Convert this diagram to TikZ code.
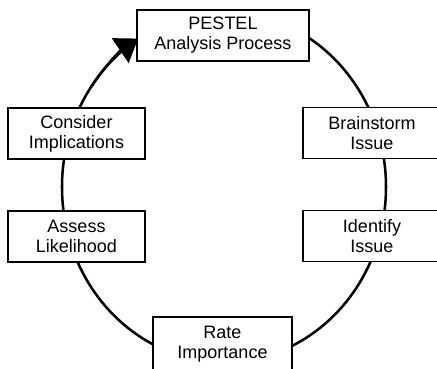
\documentclass[tikz,border=0pt]{standalone}
\usepackage{fontspec}
\setmainfont{Liberation Sans}
\usetikzlibrary{arrows.meta, calc}

\begin{document}
\begin{tikzpicture}[x=0.025cm, y=0.025cm, main/.style = {draw, fill=white, line width=1.1pt, align=center, inner sep=0pt, minimum height=1.28cm, font=\fontsize{12.8}{14.2}\selectfont}]
			\useasboundingbox (0,0) rectangle (437,369);
			\coordinate (c) at (224,182);
			\draw[line width=1.8pt] (c) ellipse [x radius=162, y radius=175];
			\node[main, minimum width=4.3cm] (1) at (223,333.5) {PESTEL\\Analysis Process};
			\node[main, minimum width=3.45cm] (2) at (372,236) {Brainstorm\\Issue};
			\node[main, minimum width=3.45cm] (3) at (372,133) {Identify\\Issue};
			\node[main, minimum width=3.48cm, minimum height=1.35cm] (4) at (222.5,25) {Rate\\Importance};
			\node[main, minimum width=3.43cm] (5) at (76.5,132.5) {Assess\\Likelihood};
			\node[main, minimum width=3.43cm] (6) at (76.5,235.5) {Consider\\Implications};
			\coordinate (a) at ($(c)+(145:162 and 175)$);
			\draw[line width=1.8pt, -{Triangle[length=5.4mm, width=7.4mm]}] (a) arc [start angle=145, end angle=122, x radius=162, y radius=175];
		\end{tikzpicture}
\end{document}
